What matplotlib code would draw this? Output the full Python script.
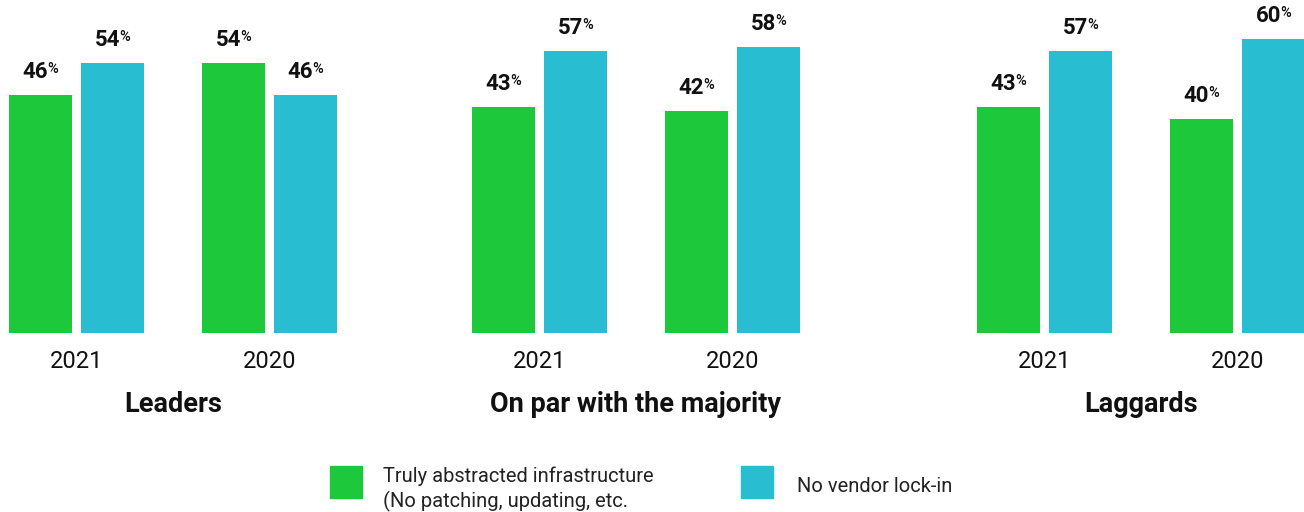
import matplotlib.pyplot as plt
from matplotlib.patches import Rectangle

plt.rcParams['font.family'] = ['Roboto', 'DejaVu Sans']

# data
groups = ['Leaders', 'On par with the majority', 'Laggards']
years = ['2021', '2020']
abstracted = [[46, 54], [43, 42], [43, 40]]
no_lockin = [[54, 46], [57, 58], [57, 60]]
legend_labels = ['Truly abstracted infrastructure\n(No patching, updating, etc.', 'No vendor lock-in']

green = '#1dc83b'
blue = '#29bdd2'

W, H = 1304, 512
fig = plt.figure(figsize=(W / 100, H / 100), dpi=100)

ymin, ymax = -13.5, 69.75
lefts = [9, 472, 977]
bw = 0.326
off = 0.1865


def label(ax, x, v):
    ax.annotate(str(v), (x, v), xytext=(-5, 12), textcoords='offset pixels',
                ha='center', va='bottom', fontsize=16, fontweight='bold', color='#111111')
    ax.annotate('%', (x, v), xytext=(7, 33), textcoords='offset pixels',
                ha='left', va='top', fontsize=10.5, fontweight='medium', color='#111111')


for i, name in enumerate(groups):
    ax = fig.add_axes([lefts[i] / W, (H - 333) / H, 328 / W, 333 / H])
    xs = range(len(years))
    for j in xs:
        ax.bar(j - off, abstracted[i][j] - ymin, bw, bottom=ymin, color=green)
        ax.bar(j + off, no_lockin[i][j] - ymin, bw, bottom=ymin, color=blue)
        label(ax, j - off, abstracted[i][j])
        label(ax, j + off, no_lockin[i][j])
    ax.set_xlim(-0.35, 1.35)
    ax.set_ylim(ymin, ymax)
    ax.set_xticks(list(xs))
    ax.set_xticklabels(years, fontsize=17, color='#111111')
    ax.tick_params(axis='x', length=0, pad=12)
    ax.set_yticks([])
    for s in ax.spines.values():
        s.set_visible(False)
    ax.text(0.5, -(404 - 333) / 333, name, transform=ax.transAxes, ha='center', va='center',
            fontsize=19.5, fontweight='bold', color='#111111')

# legend
for (x0, tx, ty, col, txt) in [(330, 383, 489, green, legend_labels[0]),
                               (741, 797, 486, blue, legend_labels[1])]:
    fig.patches.append(Rectangle((x0 / W, (H - 498) / H), 32 / W, 32 / H,
                                 transform=fig.transFigure, color=col))
    fig.text(tx / W, (H - ty) / H, txt, ha='left', va='center', fontsize=14.5,
             color='#222222', linespacing=1.3)

fig.savefig('out.png', dpi=100)
